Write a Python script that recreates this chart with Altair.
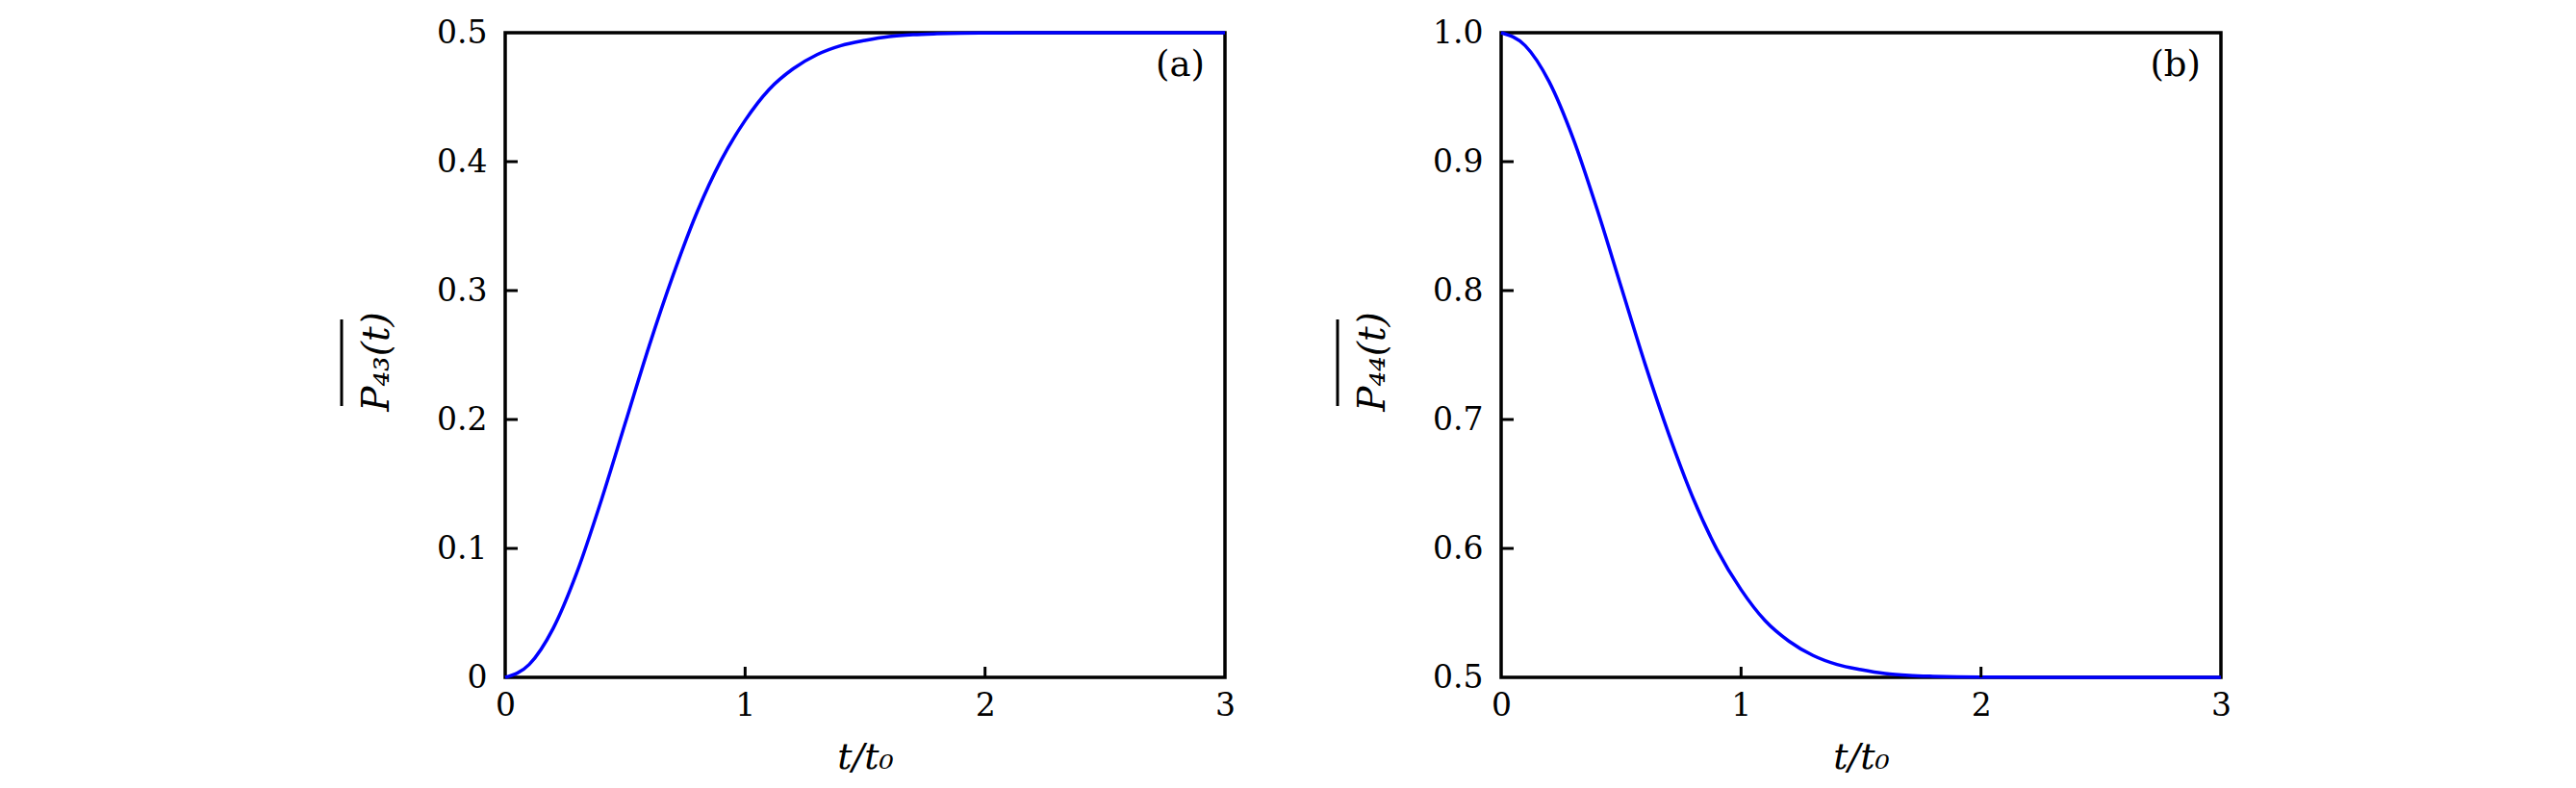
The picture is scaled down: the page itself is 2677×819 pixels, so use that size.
import altair as alt
import pandas as pd

# ---- data ----
t_vals = [0.0, 0.1, 0.2, 0.3, 0.4, 0.5, 0.6, 0.7, 0.8, 0.9,
          1.0, 1.1, 1.2, 1.3, 1.4, 1.5, 1.6, 1.7, 1.8, 1.9,
          2.0, 2.1, 2.2, 2.3, 2.4, 2.5, 2.6, 2.7, 2.8, 2.9, 3.0]
p43_vals = [0.0, 0.010, 0.038, 0.082, 0.137, 0.197, 0.257, 0.312, 0.361, 0.401,
            0.432, 0.456, 0.472, 0.483, 0.490, 0.494, 0.497, 0.4985, 0.4992, 0.4996,
            0.4998, 0.4999, 0.5, 0.5, 0.5, 0.5, 0.5, 0.5, 0.5, 0.5, 0.5]
p44_vals = [1.0, 0.990, 0.962, 0.918, 0.863, 0.803, 0.743, 0.688, 0.639, 0.599,
            0.568, 0.544, 0.528, 0.517, 0.510, 0.506, 0.503, 0.5015, 0.5008, 0.5004,
            0.5002, 0.5001, 0.5, 0.5, 0.5, 0.5, 0.5, 0.5, 0.5, 0.5, 0.5]
x_ticks = [0, 1, 2, 3]
y_ticks_a = [0.0, 0.1, 0.2, 0.3, 0.4, 0.5]
y_ticks_b = [0.5, 0.6, 0.7, 0.8, 0.9, 1.0]
panel_labels = ["(a)", "(b)"]
y_titles = ["P\u2084\u2083(t)", "P\u2084\u2084(t)"]
x_title = "t/t\u2080"

W, H = 748, 670
FONT = "DejaVu Serif"
BLUE = "#0000ff"

df = pd.DataFrame({"t": t_vals, "p43": p43_vals, "p44": p44_vals})


def panel(col, ydom, yticks, label, ytitle, label_expr):
    xs = alt.Scale(domain=[0, 3], nice=False)
    ys = alt.Scale(domain=ydom, nice=False, zero=False)
    xa = alt.Axis(
        values=x_ticks, format="d", title=x_title, ticks=False, tickSize=0,
        domain=False, grid=False, labelFlush=False,
        labelFont=FONT, labelFontSize=33, labelPadding=13, labelColor="black",
        titleFont=FONT, titleFontSize=38, titleFontStyle="italic",
        titleFontWeight="normal", titleColor="black", titlePadding=18)
    ya = alt.Axis(
        values=yticks, title=None, ticks=False, tickSize=0, domain=False,
        grid=False, labelExpr=label_expr, labelFlush=False,
        labelFont=FONT, labelFontSize=33, labelPadding=19, labelColor="black")
    line = alt.Chart(df).mark_line(color=BLUE, strokeWidth=3.5, interpolate="monotone").encode(
        x=alt.X("t:Q", scale=xs, axis=xa),
        y=alt.Y(f"{col}:Q", scale=ys, axis=ya),
    )
    xt = alt.Chart(pd.DataFrame({"t": x_ticks[1:-1]})).mark_rule(
        color="black", strokeWidth=3).encode(
        x=alt.X("t:Q", scale=xs, axis=xa), y=alt.value(H), y2=alt.value(H - 11))
    yt = alt.Chart(pd.DataFrame({col: yticks[1:-1]})).mark_rule(
        color="black", strokeWidth=3).encode(
        y=alt.Y(f"{col}:Q", scale=ys, axis=ya), x=alt.value(0), x2=alt.value(13))
    lab = alt.Chart(pd.DataFrame({"lab": [label]})).mark_text(
        font=FONT, fontSize=37, align="right", baseline="middle", color="black").encode(
        text="lab:N", x=alt.value(W - 21), y=alt.value(34))
    ytl = alt.Chart(pd.DataFrame({"lab": [ytitle]})).mark_text(
        font=FONT, fontSize=39, fontStyle="italic", angle=270, align="center",
        baseline="middle", color="black").encode(
        text="lab:N", x=alt.value(-133), y=alt.value(342))
    over = alt.Chart(pd.DataFrame({"lab": [ytitle]})).mark_rule(
        color="black", strokeWidth=3).encode(
        x=alt.value(-170), y=alt.value(298), y2=alt.value(388))
    return alt.layer(line, xt, yt, lab, ytl, over).properties(width=W, height=H)


left = panel("p43", [0, 0.5], y_ticks_a, panel_labels[0], y_titles[0],
             "datum.value == 0 ? '0' : format(datum.value, '.1f')")
right = panel("p44", [0.5, 1.0], y_ticks_b, panel_labels[1], y_titles[1],
              "format(datum.value, '.1f')")

chart = alt.hconcat(left, right, spacing=100).properties(
    padding={"left": 343, "top": 8, "right": 5, "bottom": 5}
).configure(background="white").configure_view(stroke="black", strokeWidth=3.5)

chart.save("out.html", embed_options={"renderer": "svg", "actions": False})
